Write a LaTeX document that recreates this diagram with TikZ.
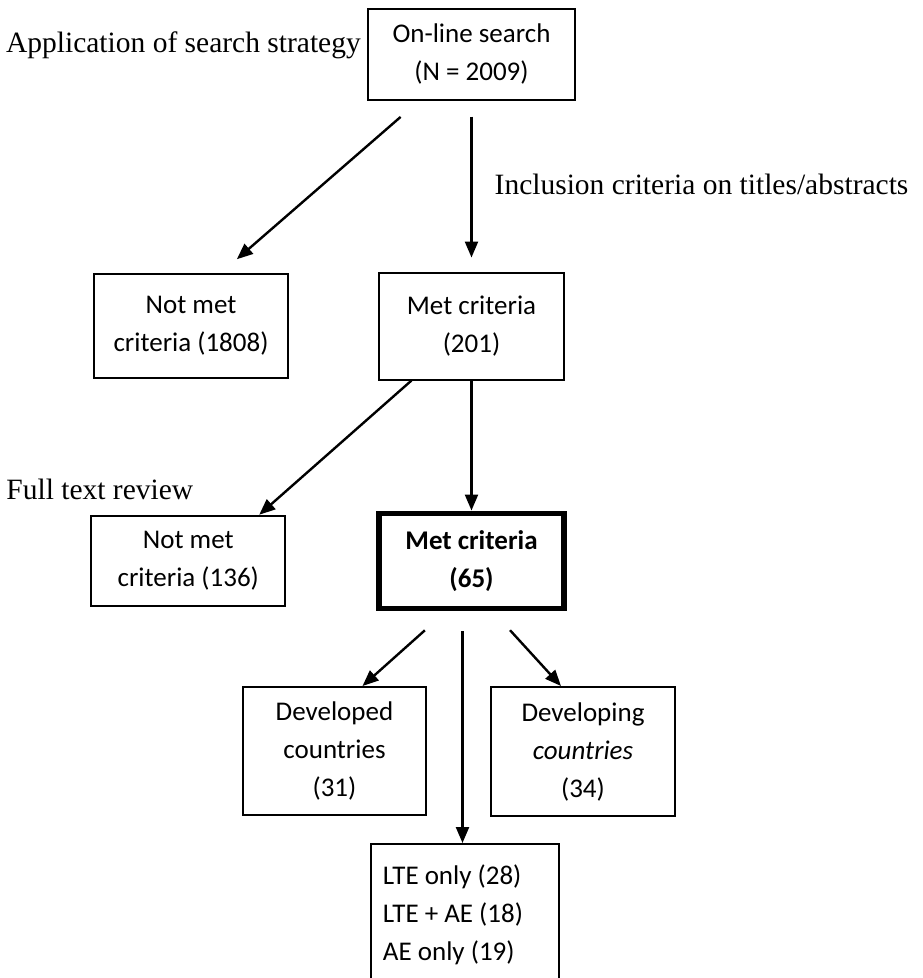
\documentclass[tikz,border=0pt]{standalone}
\usepackage{fontspec}
\setmainfont{Liberation Serif}
\newfontfamily\flowfam{Carlito}
\newcommand{\flowfont}{\flowfam\fontsize{27}{38}\selectfont}
\newcommand{\stagefont}{\fontsize{29.5}{34}\selectfont}
\usepackage{tikz}
\usetikzlibrary{arrows.meta, positioning, calc}

\begin{document}
\begin{tikzpicture}[
  >={Triangle[length=16pt, width=13pt]}, line width=2.4pt,
  box/.style   = {draw, line width=2pt, align=center, font=\flowfont, inner sep=0pt},
  heavy/.style = {box, line width=5.5pt, font=\flowfont\bfseries},
  note/.style  = {font=\stagefont, inner sep=0pt},
]
  \path[use as bounding box, fill=white] (-471.5pt,54pt) rectangle (450.5pt,-924pt);

%--- Screening: search and titles/abstracts ---
  \node[box, minimum width=207pt, minimum height=91pt]  (online)
       at (0,0) {On-line search\\(N = 2009)};
  \node[box, minimum width=185pt, minimum height=107pt, below=171pt of online]
                                                          (met1)   {Met criteria\\(201)};
  \node[box, minimum width=194pt, minimum height=104pt, left=89pt of met1]
                                                          (nomet1) {Not met\\criteria (1808)};

%--- Full text review ---
  \node[heavy, minimum width=185pt, minimum height=95pt, below=130pt of met1]
                                                          (met2)   {Met criteria\\(65)};
  \node[box, minimum width=194pt, minimum height=90pt, left=90pt of met2]
                                                          (nomet2) {Not met\\criteria (136)};

%--- Split of included studies ---
  \node[box, minimum width=183pt, minimum height=128pt, below=75pt of met2, xshift=-137pt]
                                                          (devd)   {Developed\\countries\\(31)};
  \node[box, minimum width=184pt, minimum height=129pt, below=75pt of met2, xshift=111.5pt]
                                                          (devg)   {Developing\\\textit{countries}\\(34)};
  \node[box, minimum height=141pt, text width=164pt, inner xsep=12pt, align=flush left,
        below=232pt of met2, xshift=-6.5pt]               (lte)
       {LTE only (28)\\LTE + AE (18)\\AE only (19)};

  \node[note, anchor=base east] (lblsearch) at ([xshift=-5pt, yshift=2pt]online.west)
       {Application of search strategy};
  \node[note, anchor=west]      (lblincl)   at ([xshift=22pt, yshift=-84pt]online.south)
       {Inclusion criteria on titles/abstracts};
  \node[note, anchor=west]      (lblfull)   at ([xshift=-183pt, yshift=25pt]nomet2.north)
       {Full text review};

  \draw[->, shorten <=25pt, shorten >=21pt] ([xshift=-52pt]online.south) -- ([xshift=30pt]nomet1.north);
  \draw[->, shorten <=16pt, shorten >=14pt] (online.south) -- (met1.north);
  \draw[->] ([xshift=-60pt]met1.south) -- ([xshift=71pt]nomet2.north);
  \draw[->] (met1.south) -- (met2.north);
  \draw[->, shorten <=29pt] ([xshift=-25pt]met2.south) -- ([xshift=28pt]devd.north);
  \draw[->, shorten <=26pt] ([xshift=21pt]met2.south)  -- ([xshift=-22pt]devg.north);
  \draw[->, shorten <=20pt] ([xshift=-9pt]met2.south)  -- ([xshift=-9pt]met2.south |- lte.north);
\end{tikzpicture}
\end{document}
